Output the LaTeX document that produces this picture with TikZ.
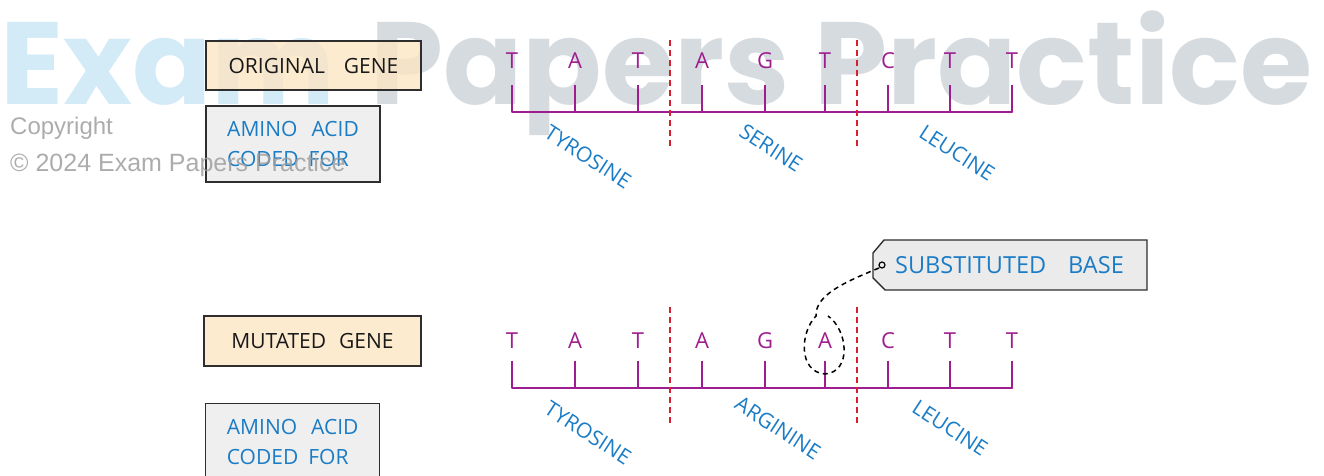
\documentclass[tikz,border=0pt]{standalone}
\usepackage{fontspec}
\setmainfont{Open Sans}
\newfontfamily\wmfont{Poppins}
\newfontfamily\cpfont{Liberation Sans}
\definecolor{mag}{HTML}{9E1E8F}
\definecolor{blu}{HTML}{1B7CC6}
\definecolor{redd}{HTML}{D7202E}
\definecolor{orfill}{HTML}{FDE6C4}
\definecolor{grfill}{HTML}{EBEBEB}
\definecolor{bord}{HTML}{2E2E2E}
\definecolor{wmblue}{HTML}{D3EAF7}
\definecolor{wmgray}{HTML}{D6DBE0}
\tikzset{
  boxtxt/.style={font=\fontsize{21}{30}\selectfont},
  genebox/.style={boxtxt, draw=bord, line width=1.4pt, fill=orfill, fill opacity=0.8, text opacity=1, draw opacity=1, inner sep=0pt, text=black!90},
  aabox/.style={boxtxt, draw=bord, line width=1.4pt, fill=grfill, fill opacity=0.8, text opacity=1, draw opacity=1, inner sep=0pt, text=blu, align=left},
  base/.style={font=\fontsize{22}{24}\selectfont, text=mag, inner sep=0pt},
  tick/.style={draw=mag, line width=1.5pt},
  strand/.style={draw=mag, line width=2pt},
  frame/.style={draw=redd, line width=1.5pt, dash pattern=on 6pt off 4pt},
  amino/.style={font=\fontsize{21}{24}\selectfont, text=blu, rotate=-33, inner sep=0pt},
  tag/.style={draw=bord, line width=1.4pt, fill=grfill},
  pointer/.style={draw=black, line width=1.5pt, dash pattern=on 5pt off 4pt},
  wm/.style={anchor=base west, inner sep=0pt, font=\wmfont\bfseries\fontsize{117}{117}\selectfont},
  cp/.style={anchor=base west, inner sep=0pt, text=black!38, text opacity=0.85},
}
\begin{document}
\begin{tikzpicture}[x=1pt,y=-1pt]
\useasboundingbox (0,0) rectangle (1324,476);
\begin{scope}
\clip (0,0) rectangle (1324,476);
% ---------- watermark (behind) ----------
\node[wm, text=wmblue] (wm1) at (0,105) {Exam};
\node[wm, text=wmgray] (wm2) at (370,105) {Papers Practice};
% ---------- top: original gene ----------
\node[genebox, minimum width=215pt, minimum height=49pt] (og) at (313.5,65.5) {ORIGINAL\hspace{19pt}GENE};
\node[aabox, minimum width=174pt, minimum height=76pt] (aa1) at (293,144) {AMINO\hspace{14pt}ACID\\CODED\hspace{10pt}FOR};
\node[cp, font=\cpfont\fontsize{24}{24}\selectfont] (cp1) at (10,135) {Copyright};
\node[cp, font=\cpfont\fontsize{25}{25}\selectfont] (cp2) at (10,171) {© 2024 Exam Papers Practice};
\foreach \x/\b [count=\i] in {512/T,575/A,638/T,702/A,765/G,825/T,888/C,950/T,1012/T}{
  \node[base] (t\i) at (\x,61) {\b};
  \coordinate (tt\i) at (\x,85);
  \coordinate (tb\i) at (\x,112);
  \draw[tick] (tt\i) -- (tb\i);
}
\draw[strand, line cap=round] (tb1) -- (tb9);
\coordinate (r1a) at (670,40); \coordinate (r1b) at (670,148);
\coordinate (r2a) at (857,40); \coordinate (r2b) at (857,148);
\draw[frame] (r1a) -- (r1b);
\draw[frame] (r2a) -- (r2b);
\node[amino] (ty1) at (588,157) {TYROSINE};
\node[amino] (se1) at (771,148) {SERINE};
\node[amino] (le1) at (957,153) {LEUCINE};
% ---------- bottom: mutated gene ----------
\node[genebox, minimum width=217pt, minimum height=50pt] (mg) at (312.5,341) {MUTATED\hspace{13pt}GENE};
\node[aabox, minimum width=174pt, minimum height=76pt, anchor=north west] (aa2) at (205,403) {AMINO\hspace{14pt}ACID\\CODED\hspace{10pt}FOR};
\foreach \x/\b [count=\i] in {512/T,575/A,638/T,702/A,765/G,825/A,888/C,950/T,1012/T}{
  \node[base] (m\i) at (\x,341) {\b};
  \coordinate (mt\i) at (\x,361);
  \coordinate (mb\i) at (\x,388);
  \draw[tick] (mt\i) -- (mb\i);
}
\draw[strand, line cap=round] (mb1) -- (mb9);
\coordinate (r3a) at (670,307); \coordinate (r3b) at (670,424);
\coordinate (r4a) at (857,307); \coordinate (r4b) at (857,424);
\draw[frame] (r3a) -- (r3b);
\draw[frame] (r4a) -- (r4b);
\node[amino] (ty2) at (588,433) {TYROSINE};
\node[amino] (ar2) at (778,428) {ARGININE};
\node[amino] (le2) at (950,428) {LEUCINE};
% ---------- tag ----------
\coordinate (g1) at (884,240);
\coordinate (g2) at (1147,240);
\coordinate (g3) at (1147,290);
\coordinate (g4) at (885,290);
\coordinate (g5) at (873,278);
\coordinate (g6) at (873,253);
\draw[tag] (g1) -- (g2) -- (g3) -- (g4) -- (g5) -- (g6) -- cycle;
\node[font=\fontsize{23.5}{26}\selectfont, text=blu, anchor=west, inner sep=0pt] (sb) at (895,265) {SUBSTITUTED\hspace{22pt}BASE};
\coordinate (hole) at (882,265);
\draw[line width=1.2pt] (hole) circle (3pt);
\draw[pointer] (879,268) .. controls (845,282) and (815,295) .. (816,316)
  .. controls (800,332) and (798,372) .. (825,374)
  .. controls (852,372) and (848,330) .. (828,316);
\end{scope}
\end{tikzpicture}
\end{document}
